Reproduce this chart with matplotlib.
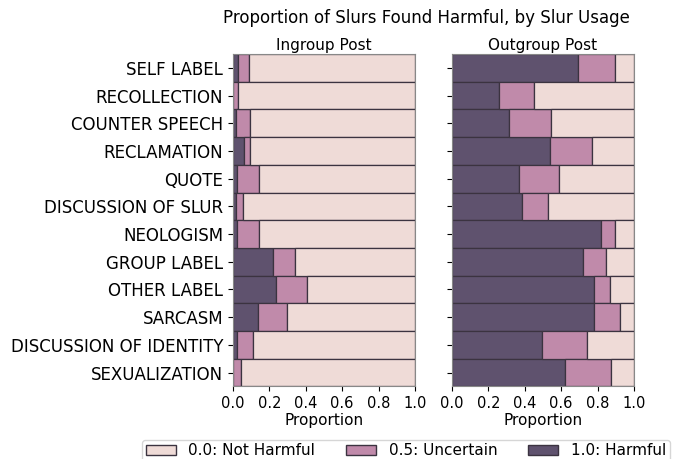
import numpy as np
import matplotlib
matplotlib.use("Agg")
import matplotlib.pyplot as plt
from matplotlib.patches import Patch

# slur usage categories, top to bottom
usages = ["SELF LABEL", "RECOLLECTION", "COUNTER SPEECH", "RECLAMATION", "QUOTE",
          "DISCUSSION OF SLUR", "NEOLOGISM", "GROUP LABEL", "OTHER LABEL",
          "SARCASM", "DISCUSSION OF IDENTITY", "SEXUALIZATION"]

# proportions (harmful, uncertain); not harmful is the rest
in_harmful = [0.029, 0.0, 0.016, 0.059, 0.020, 0.016, 0.020, 0.218, 0.238, 0.139, 0.024, 0.0]
in_uncertain = [0.059, 0.029, 0.079, 0.036, 0.124, 0.041, 0.124, 0.120, 0.170, 0.159, 0.084, 0.046]

out_harmful = [0.692, 0.259, 0.314, 0.540, 0.367, 0.387, 0.819, 0.721, 0.779, 0.783, 0.496, 0.624]
out_uncertain = [0.206, 0.194, 0.228, 0.232, 0.222, 0.139, 0.077, 0.124, 0.091, 0.139, 0.247, 0.248]

legend_labels = ["0.0: Not Harmful", "0.5: Uncertain", "1.0: Harmful"]
colors = ["#efdbd7", "#c08aaa", "#5f526e"]  # not harmful, uncertain, harmful
edge = "#3b3340"

fig = plt.figure(figsize=(6.9, 4.59), dpi=100)
ax_in = fig.add_axes([0.3377, 0.158, 0.2637, 0.7244])
ax_out = fig.add_axes([0.655, 0.158, 0.2637, 0.7244])

y = np.arange(len(usages))

def draw(ax, harmful, uncertain, title):
    harmful = np.array(harmful)
    uncertain = np.array(uncertain)
    rest = 1 - harmful - uncertain
    ax.barh(y, harmful, height=1.0, color=colors[2], edgecolor=edge, linewidth=0.9)
    ax.barh(y, uncertain, left=harmful, height=1.0, color=colors[1], edgecolor=edge, linewidth=0.9)
    ax.barh(y, rest, left=harmful + uncertain, height=1.0, color=colors[0], edgecolor=edge, linewidth=0.9)
    ax.set_xlim(0, 1)
    ax.set_ylim(len(usages) - 0.5, -0.5)
    ax.set_xticks([0, 0.2, 0.4, 0.6, 0.8, 1.0])
    ax.set_xticklabels(["0.0", "0.2", "0.4", "0.6", "0.8", "1.0"])
    ax.tick_params(axis="x", labelsize=10.5)
    ax.tick_params(axis="y", labelsize=12)
    ax.set_xlabel("Proportion", fontsize=11, labelpad=1)
    ax.set_title(title, fontsize=11, pad=3)
    for s in ax.spines.values():
        s.set_color("#888888")

draw(ax_in, in_harmful, in_uncertain, "Ingroup Post")
draw(ax_out, out_harmful, out_uncertain, "Outgroup Post")

ax_in.set_yticks(y)
ax_in.set_yticklabels(usages)
ax_out.set_yticks(y)
ax_out.set_yticklabels([])

fig.suptitle("Proportion of Slurs Found Harmful, by Slur Usage", fontsize=12, x=0.618, y=0.98)

handles = [Patch(facecolor=colors[i], edgecolor=edge, label=legend_labels[i]) for i in range(3)]
fig.legend(handles=handles, loc="upper center", ncol=3, fontsize=11,
           bbox_to_anchor=(0.588, 0.0588), frameon=True, borderpad=0.25)

fig.savefig("out.png", dpi=100)
